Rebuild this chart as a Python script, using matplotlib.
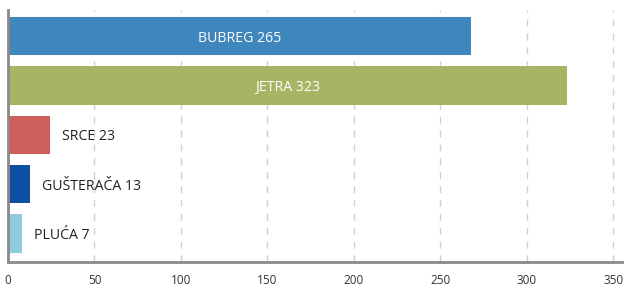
import numpy as np
import matplotlib
matplotlib.use("Agg")
import matplotlib.pyplot as plt

# organ data (bar lengths, labels as printed)
organs = ["BUBREG", "JETRA", "SRCE", "GUŠTERAČA", "PLUĆA"]
bar_values = [268, 323, 24, 13, 8]
label_numbers = [265, 323, 23, 13, 7]
colors = ["#3f86bd", "#a8b464", "#cd5e5a", "#0c4fa3", "#8ecdd9"]
x_ticks = [0, 50, 100, 150, 200, 250, 300, 350]

plt.rcParams['font.family'] = ['Open Sans', 'DejaVu Sans']

fig = plt.figure(figsize=(6.25, 2.88), dpi=100)
ax = fig.add_axes([0.0128, 0.0903, 0.9822, 0.8750])

y = np.arange(len(organs))
ax.barh(y, bar_values, height=0.78, color=colors, zorder=2)

for i, (name, v, n) in enumerate(zip(organs, bar_values, label_numbers)):
    txt = f"{name} {n}"
    if v > 100:
        ax.annotate(txt, (v / 2, i), xytext=(0, -2), textcoords='offset pixels',
                    ha='center', va='center', color='white', fontsize=10.2, zorder=3)
    else:
        ax.annotate(txt, (v, i), xytext=(12, -2), textcoords='offset pixels',
                    ha='left', va='center', color='#222222', fontsize=10.2, zorder=3)

ax.set_xlim(0, 355)
ax.set_ylim(4.58, -0.53)
ax.set_xticks(x_ticks)
ax.set_yticks([])
ax.tick_params(axis='x', length=0, pad=9, labelsize=8.5, labelcolor='#333333')
ax.grid(axis='x', color='#d0d0d0', linestyle=(0, (5, 5)), linewidth=1, zorder=1)

for s in ['top', 'right']:
    ax.spines[s].set_visible(False)
for s in ['left', 'bottom']:
    ax.spines[s].set_color('#8a8a8a')
    ax.spines[s].set_linewidth(2)

fig.savefig("out.png", dpi=100)
